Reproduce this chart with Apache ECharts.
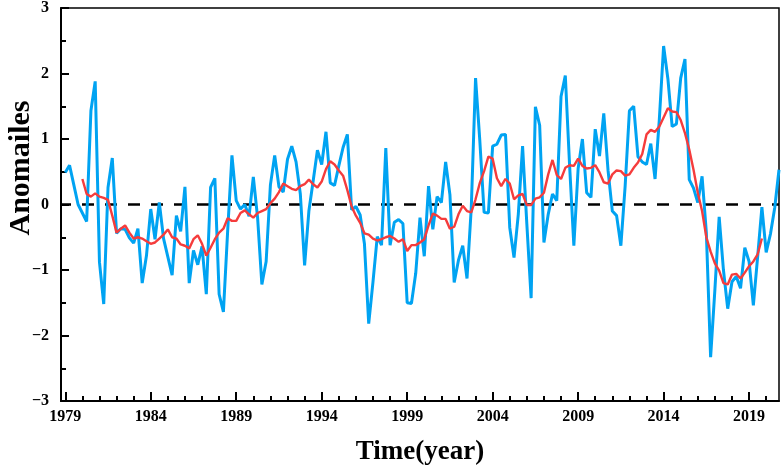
<!DOCTYPE html>
<html>
<head>
<meta charset="utf-8">
<script src="https://cdn.jsdelivr.net/npm/echarts@6/dist/echarts.min.js"></script>
<style>
  html, body { margin: 0; padding: 0; background: #fff; }
  #chart { width: 782px; height: 471px; }
</style>
</head>
<body>
<div id="chart"></div>
<script>
// quarterly series, first point at 1979.0
var startYear = 1979;
var xMin = 1978.75;
var xMax = 2020.75;
var majorYears = [1979, 1984, 1989, 1994, 1999, 2004, 2009, 2014, 2019];
var minorYears = [1979, 1980, 1981, 1982, 1983, 1984, 1985, 1986, 1987, 1988, 1989, 1990,
  1991, 1992, 1993, 1994, 1995, 1996, 1997, 1998, 1999, 2000, 2001, 2002, 2003, 2004,
  2005, 2006, 2007, 2008, 2009, 2010, 2011, 2012, 2013, 2014, 2015, 2016, 2017, 2018,
  2019, 2020];

// anomalies (blue)
var anomalies = [
  0.49, 0.60, 0.30, 0.00, -0.13, -0.26, 1.43, 1.88, -0.88, -1.52,
  0.26, 0.71, -0.44, -0.37, -0.38, -0.51, -0.59, -0.37, -1.20, -0.78,
  -0.07, -0.53, 0.03, -0.52, -0.80, -1.08, -0.17, -0.41, 0.27, -1.20,
  -0.70, -0.92, -0.64, -1.37, 0.26, 0.40, -1.37, -1.64, -0.40, 0.75,
  0.06, -0.07, 0.00, -0.18, 0.42, -0.20, -1.22, -0.87, 0.30, 0.75,
  0.27, 0.19, 0.69, 0.89, 0.65, 0.16, -0.93, -0.10, 0.36, 0.83,
  0.61, 1.11, 0.33, 0.29, 0.59, 0.87, 1.07, -0.08, -0.03, -0.16,
  -0.60, -1.82, -1.18, -0.49, -0.62, 0.86, -0.62, -0.27, -0.23, -0.29,
  -1.50, -1.51, -1.05, -0.20, -0.79, 0.28, -0.38, 0.12, 0.03, 0.65,
  0.15, -1.19, -0.85, -0.63, -1.13, -0.05, 1.93, 0.97, -0.12, -0.13,
  0.89, 0.92, 1.06, 1.07, -0.35, -0.81, -0.15, 0.89, -0.30, -1.43,
  1.49, 1.21, -0.58, -0.15, 0.16, 0.06, 1.65, 1.97, 0.60, -0.63,
  0.55, 1.00, 0.18, 0.11, 1.15, 0.74, 1.39, 0.52, -0.10, -0.17,
  -0.63, 0.28, 1.43, 1.50, 0.73, 0.65, 0.61, 0.93, 0.39, 1.30,
  2.42, 1.92, 1.19, 1.23, 1.93, 2.22, 0.38, 0.25, 0.03, 0.43,
  -0.43, -2.33, -1.30, -0.19, -1.00, -1.59, -1.18, -1.10, -1.28, -0.66,
  -0.87, -1.54, -0.80, -0.04, -0.73, -0.45, -0.05, 0.53
];

// smoothed curve (red), first point at 1980.0
var smoothStart = 1980;
var smoothed = [
  0.39, 0.16, 0.12, 0.17, 0.12, 0.10, 0.07, -0.17, -0.43, -0.37,
  -0.32, -0.43, -0.52, -0.50, -0.52, -0.56, -0.60, -0.58, -0.52, -0.46,
  -0.38, -0.50, -0.52, -0.61, -0.63, -0.67, -0.53, -0.47, -0.60, -0.78,
  -0.66, -0.53, -0.43, -0.37, -0.21, -0.25, -0.25, -0.13, -0.09, -0.15,
  -0.20, -0.13, -0.10, -0.07, 0.02, 0.09, 0.19, 0.32, 0.28, 0.24,
  0.22, 0.28, 0.31, 0.38, 0.31, 0.26, 0.35, 0.54, 0.66, 0.61,
  0.52, 0.44, 0.22, -0.03, -0.17, -0.28, -0.44, -0.46, -0.52, -0.55,
  -0.53, -0.50, -0.48, -0.52, -0.57, -0.53, -0.71, -0.62, -0.62, -0.58,
  -0.53, -0.32, -0.14, -0.17, -0.22, -0.22, -0.37, -0.34, -0.15, -0.02,
  -0.10, -0.12, 0.08, 0.33, 0.51, 0.73, 0.70, 0.40, 0.28, 0.39,
  0.32, 0.08, 0.14, 0.16, -0.01, -0.01, 0.09, 0.11, 0.18, 0.46,
  0.68, 0.45, 0.39, 0.56, 0.60, 0.59, 0.70, 0.59, 0.55, 0.56,
  0.60, 0.49, 0.34, 0.32, 0.46, 0.52, 0.51, 0.44, 0.46, 0.56,
  0.64, 0.77, 1.07, 1.14, 1.11, 1.19, 1.33, 1.47, 1.42, 1.41,
  1.29, 1.09, 0.84, 0.53, 0.18, -0.10, -0.50, -0.72, -0.90, -1.01,
  -1.20, -1.22, -1.07, -1.06, -1.13, -1.04, -0.94, -0.87, -0.76, -0.52
];

// dashed reference level
var zeroLevel = 0;

var serif = '"Liberation Serif", "Times New Roman", serif';

function toPoints(values, from) {
  return values.map(function (v, i) {
    return [from + i * 0.25, v];
  });
}

var chart = echarts.init(document.getElementById('chart'));

var option = {
  backgroundColor: '#fff',
  animation: false,
  grid: {
    left: 61,
    right: 3,
    top: 8,
    bottom: 68,
    show: true,
    borderColor: '#000',
    borderWidth: 1.5
  },
  xAxis: [
    {
      type: 'value',
      min: xMin,
      max: xMax,
      position: 'bottom',
      axisLine: { onZero: false, lineStyle: { color: '#000', width: 2 } },
      axisTick: {
        inside: true,
        length: 9,
        customValues: majorYears,
        lineStyle: { color: '#000', width: 2 }
      },
      axisLabel: {
        customValues: majorYears,
        margin: 8,
        color: '#000',
        fontFamily: serif,
        fontWeight: 'bold',
        fontSize: 16,
        formatter: function (v) { return String(v); }
      },
      splitLine: { show: false },
      name: 'Time(year)',
      nameLocation: 'middle',
      nameGap: 38,
      nameTextStyle: {
        color: '#000',
        fontFamily: serif,
        fontWeight: 'bold',
        fontSize: 27
      }
    },
    {
      type: 'value',
      min: xMin,
      max: xMax,
      position: 'bottom',
      axisLine: { show: false, onZero: false },
      axisTick: {
        inside: true,
        length: 5,
        customValues: minorYears,
        lineStyle: { color: '#000', width: 2 }
      },
      axisLabel: { show: false },
      splitLine: { show: false }
    }
  ],
  yAxis: {
    type: 'value',
    min: -3,
    max: 3,
    interval: 1,
    axisLine: { show: true, onZero: false, lineStyle: { color: '#000', width: 2 } },
    axisTick: {
      show: true,
      inside: true,
      length: 8,
      lineStyle: { color: '#000', width: 2 }
    },
    minorTick: {
      show: true,
      splitNumber: 2,
      length: 5,
      lineStyle: { color: '#000', width: 2 }
    },
    axisLabel: {
      margin: 12,
      color: '#000',
      fontFamily: serif,
      fontWeight: 'bold',
      fontSize: 16,
      formatter: function (v) {
        return v < 0 ? '\u2212' + Math.abs(v) : String(v);
      }
    },
    splitLine: { show: false }
  },
  graphic: [
    {
      type: 'text',
      x: 21,
      y: 168,
      rotation: Math.PI / 2,
      style: {
        text: 'Anomailes',
        font: 'bold 30px ' + serif,
        fill: '#000',
        align: 'center',
        verticalAlign: 'middle'
      }
    }
  ],
  series: [
    {
      name: 'Zero',
      type: 'line',
      xAxisIndex: 0,
      data: [[xMin, zeroLevel], [xMax, zeroLevel]],
      showSymbol: false,
      silent: true,
      lineStyle: { color: '#000', width: 2.5, type: [12, 11], dashOffset: 2 },
      z: 1
    },
    {
      name: 'Anomalies',
      type: 'line',
      xAxisIndex: 0,
      data: toPoints(anomalies, startYear),
      showSymbol: false,
      lineStyle: { color: '#00a3f2', width: 3 },
      z: 2
    },
    {
      name: 'Smoothed',
      type: 'line',
      xAxisIndex: 0,
      data: toPoints(smoothed, smoothStart),
      showSymbol: false,
      lineStyle: { color: '#f53c3c', width: 2.4 },
      z: 3
    }
  ]
};

chart.setOption(option);
</script>
</body>
</html>
